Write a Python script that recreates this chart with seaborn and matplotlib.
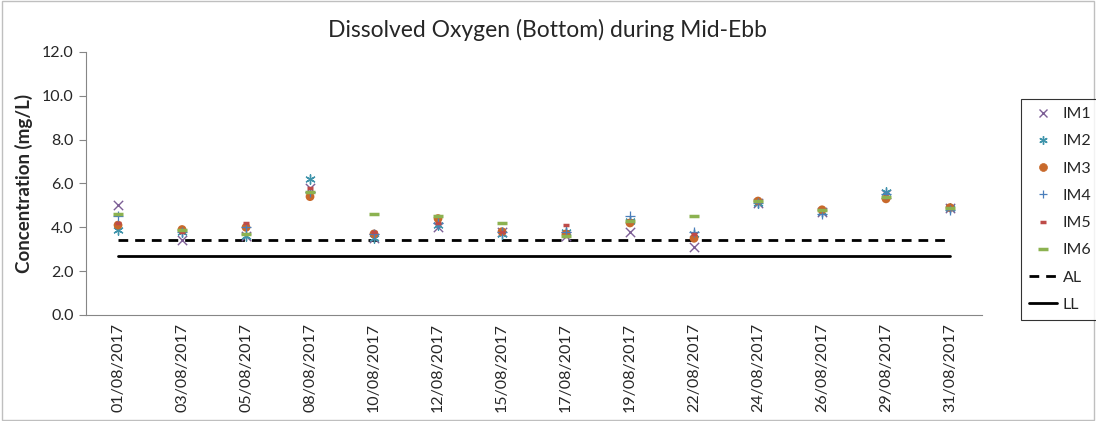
import numpy as np
import pandas as pd
import seaborn as sns
import matplotlib.pyplot as plt
from matplotlib.lines import Line2D
from matplotlib.patches import Rectangle

# sampling dates (category axis)
dates = ['01/08/2017', '03/08/2017', '05/08/2017', '08/08/2017', '10/08/2017',
         '12/08/2017', '15/08/2017', '17/08/2017', '19/08/2017', '22/08/2017',
         '24/08/2017', '26/08/2017', '29/08/2017', '31/08/2017']

# dissolved oxygen (mg/L) per station
im1 = [5.0, 3.4, 3.6, 5.8, 3.5, 4.0, 3.8, 3.6, 3.8, 3.1, 5.1, 4.7, 5.5, 4.9]
im2 = [3.9, 3.8, 3.6, 6.2, 3.5, 4.1, 3.7, 3.8, 4.3, 3.7, 5.1, 4.7, 5.6, 4.9]
im3 = [4.1, 3.9, 4.0, 5.4, 3.7, 4.4, 3.8, 3.7, 4.2, 3.5, 5.2, 4.8, 5.3, 4.9]
im4 = [4.5, 3.8, 4.0, 5.6, 3.7, 4.2, 3.8, 3.8, 4.5, 3.8, 5.1, 4.6, 5.5, 4.8]
im5 = [4.2, 3.8, 4.2, 5.8, 3.8, 4.2, 3.8, 4.1, 4.3, 3.7, 5.2, 4.8, 5.4, 4.9]
im6 = [4.6, 3.9, 3.7, 5.6, 4.6, 4.5, 4.2, 3.6, 4.3, 4.5, 5.2, 4.8, 5.4, 4.9]

# action level / limit level
al_value = 3.4
ll_value = 2.7

stations = ['IM1', 'IM2', 'IM3', 'IM4', 'IM5', 'IM6']
values = [im1, im2, im3, im4, im5, im6]

rows = []
for st, vals in zip(stations, values):
    for d, v in zip(dates, vals):
        rows.append({'Date': d, 'Station': st, 'DO': v})
df = pd.DataFrame(rows)
limits = pd.DataFrame({'Date': dates, 'AL': [al_value] * len(dates), 'LL': [ll_value] * len(dates)})

colors = {'IM1': '#7D5F96', 'IM2': '#3F94AB', 'IM3': '#C8692B',
          'IM4': '#4A7EBB', 'IM5': '#BE4B48', 'IM6': '#8CB250'}
markers = {'IM1': 'x', 'IM2': (6, 2, 0), 'IM3': 'o', 'IM4': '+', 'IM5': '_', 'IM6': '_'}
sizes = {'IM1': 45, 'IM2': 45, 'IM3': 40, 'IM4': 45, 'IM5': 20, 'IM6': 60}
widths = {'IM1': 1.0, 'IM2': 1.0, 'IM3': 0, 'IM4': 0.9, 'IM5': 2.5, 'IM6': 2.5}

sns.set_style('white')
plt.rcParams['font.family'] = ['Lato', 'DejaVu Sans']

fig = plt.figure(figsize=(10.96, 4.21), dpi=100)
ax = fig.add_axes([0.0785, 0.2518, 0.8175, 0.6247])

sns.lineplot(x='Date', y='AL', data=limits, ax=ax, color='black', linewidth=2,
             linestyle=(0, (3.5, 2.5)), sort=False)
sns.lineplot(x='Date', y='LL', data=limits, ax=ax, color='black', linewidth=2, sort=False)

for st in stations:
    sub = df[df['Station'] == st]
    sns.scatterplot(x='Date', y='DO', data=sub, ax=ax, marker=markers[st], s=sizes[st],
                    color=colors[st], linewidth=widths[st], edgecolor=colors[st] if st != 'IM3' else 'none',
                    zorder=3, legend=False)

ax.set_xlim(-0.5, len(dates) - 0.5)
ax.set_ylim(0, 12)
ax.set_yticks(np.arange(0, 12.1, 2))
ax.set_yticklabels([f'{v:.1f}' for v in np.arange(0, 12.1, 2)], fontsize=11.5)
ax.set_xticks(range(len(dates)))
ax.set_xticklabels(dates, rotation=90, fontsize=11.5)
ax.set_xticks(np.arange(-0.5, len(dates), 1), minor=True)
ax.tick_params(axis='x', which='major', length=0, pad=6)
ax.tick_params(axis='x', which='minor', length=5, color='#868686', width=0.8)
ax.tick_params(axis='y', length=5, color='#868686', width=0.8, left=True, pad=4)
ax.set_xlabel('')
ax.set_ylabel('Concentration (mg/L)', fontsize=13.5, fontweight='bold', labelpad=6)
for side in ['top', 'right']:
    ax.spines[side].set_visible(False)
for side in ['left', 'bottom']:
    ax.spines[side].set_color('#868686')
    ax.spines[side].set_linewidth(0.8)

fig.text(0.5, 0.93, 'Dissolved Oxygen (Bottom) during Mid-Ebb', ha='center', va='center', fontsize=16.5)

handles = []
for st in stations:
    handles.append(Line2D([], [], linestyle='none', marker=markers[st], color=colors[st],
                          markersize=np.sqrt(sizes[st]) * 0.9, markeredgewidth=max(widths[st], 0.5)))
handles.append(Line2D([], [], color='black', linewidth=2, linestyle=(0, (3.5, 2.5))))
handles.append(Line2D([], [], color='black', linewidth=2))
leg = fig.legend(handles, stations + ['AL', 'LL'], loc='upper left', bbox_to_anchor=(0.932, 0.765),
                 fontsize=11.5, frameon=True, fancybox=False, handlelength=1.7, labelspacing=0.82,
                 borderpad=0.5, handletextpad=0.4, borderaxespad=0)
leg.get_frame().set_edgecolor('black')
leg.get_frame().set_linewidth(0.8)

fig.patches.append(Rectangle((0.002, 0.003), 0.996, 0.994, transform=fig.transFigure,
                             fill=False, edgecolor='#BFBFBF', linewidth=1))

fig.savefig('out.png', dpi=100)
